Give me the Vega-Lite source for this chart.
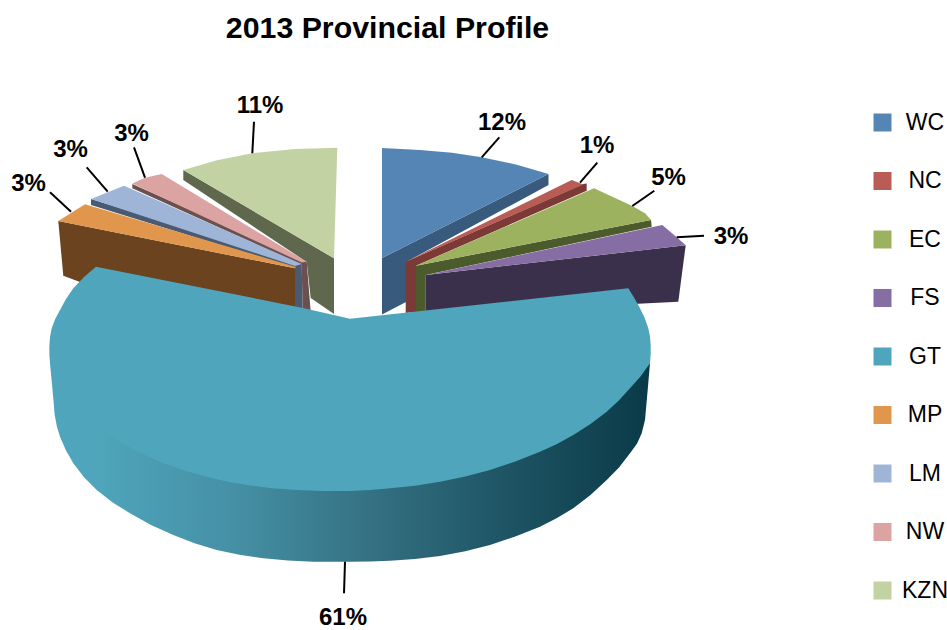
{
  "$schema": "https://vega.github.io/schema/vega-lite/v6.json",
  "width": 947,
  "height": 630,
  "padding": 0,
  "autosize": {"type": "none"},
  "background": "white",
  "title": {"text": "2013 Provincial Profile", "font": "Liberation Sans", "fontWeight": "bold", "fontSize": 30.3, "color": "black", "anchor": "middle", "dx": -86, "dy": 44, "offset": 0},
  "config": {"view": {"stroke": null}},
  "datasets": {
    "outlines": [
      {"province":"WC","face":"side","i":1,"x":382,"y":258},{"province":"WC","face":"side","i":2,"x":548.5,"y":174},{"province":"WC","face":"side","i":3,"x":548.5,"y":185},{"province":"WC","face":"side","i":4,"x":406,"y":262},{"province":"WC","face":"side","i":5,"x":406,"y":302},{"province":"WC","face":"side","i":6,"x":382,"y":314.5},
      {"province":"NC","face":"side","i":1,"x":405.7,"y":261.7},{"province":"NC","face":"side","i":2,"x":583.3,"y":184},{"province":"NC","face":"side","i":3,"x":586.7,"y":183.5},{"province":"NC","face":"side","i":4,"x":586.7,"y":190.7},{"province":"NC","face":"side","i":5,"x":416,"y":265.7},{"province":"NC","face":"side","i":6,"x":416,"y":312},{"province":"NC","face":"side","i":7,"x":405.7,"y":313},
      {"province":"EC","face":"side","i":1,"x":416,"y":265.7},{"province":"EC","face":"side","i":2,"x":651,"y":220},{"province":"EC","face":"side","i":3,"x":651.7,"y":226.7},{"province":"EC","face":"side","i":4,"x":425.7,"y":275},{"province":"EC","face":"side","i":5,"x":425.7,"y":312},{"province":"EC","face":"side","i":6,"x":416,"y":312},
      {"province":"FS","face":"side","i":1,"x":425.7,"y":275},{"province":"FS","face":"side","i":2,"x":685.7,"y":245.3},{"province":"FS","face":"side","i":3,"x":678.3,"y":301.7},{"province":"FS","face":"side","i":4,"x":633,"y":304},{"province":"FS","face":"side","i":5,"x":425.7,"y":312},
      {"province":"MP","face":"side","i":1,"x":58.3,"y":221},{"province":"MP","face":"side","i":2,"x":295,"y":268.3},{"province":"MP","face":"side","i":3,"x":295,"y":312},{"province":"MP","face":"side","i":4,"x":80,"y":282},{"province":"MP","face":"side","i":5,"x":63.3,"y":275.7},
      {"province":"LM","face":"side","i":1,"x":91,"y":199},{"province":"LM","face":"side","i":2,"x":301.7,"y":264},{"province":"LM","face":"side","i":3,"x":302.7,"y":312},{"province":"LM","face":"side","i":4,"x":295,"y":312},{"province":"LM","face":"side","i":5,"x":295,"y":268.3},{"province":"LM","face":"side","i":6,"x":91,"y":205},
      {"province":"NW","face":"side","i":1,"x":132.3,"y":184},{"province":"NW","face":"side","i":2,"x":306.7,"y":261.7},{"province":"NW","face":"side","i":3,"x":310.7,"y":312},{"province":"NW","face":"side","i":4,"x":302.7,"y":312},{"province":"NW","face":"side","i":5,"x":301.7,"y":265},{"province":"NW","face":"side","i":6,"x":132.3,"y":188.3},
      {"province":"KZN","face":"side","i":1,"x":183.3,"y":170},{"province":"KZN","face":"side","i":2,"x":334,"y":258.3},{"province":"KZN","face":"side","i":3,"x":334,"y":314},{"province":"KZN","face":"side","i":4,"x":310.7,"y":298},{"province":"KZN","face":"side","i":5,"x":306.7,"y":262},{"province":"KZN","face":"side","i":6,"x":183.3,"y":180},

      {"province":"WC","face":"top","i":1,"x":382,"y":148},{"province":"WC","face":"top","i":2,"x":420,"y":150},{"province":"WC","face":"top","i":3,"x":452,"y":152.7},{"province":"WC","face":"top","i":4,"x":481.7,"y":157.3},{"province":"WC","face":"top","i":5,"x":516,"y":164.5},{"province":"WC","face":"top","i":6,"x":548.5,"y":174},{"province":"WC","face":"top","i":7,"x":382,"y":258},
      {"province":"NC","face":"top","i":1,"x":405.7,"y":261.7},{"province":"NC","face":"top","i":2,"x":571.7,"y":180},{"province":"NC","face":"top","i":3,"x":583.3,"y":184.5},
      {"province":"EC","face":"top","i":1,"x":416,"y":265.7},{"province":"EC","face":"top","i":2,"x":594,"y":188.3},{"province":"EC","face":"top","i":3,"x":632.3,"y":206},{"province":"EC","face":"top","i":4,"x":645,"y":213.3},{"province":"EC","face":"top","i":5,"x":651,"y":220},
      {"province":"FS","face":"top","i":1,"x":425.7,"y":275},{"province":"FS","face":"top","i":2,"x":662.3,"y":225},{"province":"FS","face":"top","i":3,"x":676.7,"y":237.3},{"province":"FS","face":"top","i":4,"x":685.7,"y":245.3},
      {"province":"MP","face":"top","i":1,"x":58.3,"y":221},{"province":"MP","face":"top","i":2,"x":85,"y":204.3},{"province":"MP","face":"top","i":3,"x":296,"y":267},{"province":"MP","face":"top","i":4,"x":295,"y":268.3},
      {"province":"LM","face":"top","i":1,"x":91,"y":199},{"province":"LM","face":"top","i":2,"x":124,"y":185.7},{"province":"LM","face":"top","i":3,"x":301.7,"y":264},{"province":"LM","face":"top","i":4,"x":295,"y":266},
      {"province":"NW","face":"top","i":1,"x":132.3,"y":183.5},{"province":"NW","face":"top","i":2,"x":145,"y":177.7},{"province":"NW","face":"top","i":3,"x":161.7,"y":174},{"province":"NW","face":"top","i":4,"x":306.7,"y":261.7},{"province":"NW","face":"top","i":5,"x":301.7,"y":262.5},
      {"province":"KZN","face":"top","i":1,"x":183.3,"y":170},{"province":"KZN","face":"top","i":2,"x":216,"y":160.5},{"province":"KZN","face":"top","i":3,"x":252,"y":153.3},{"province":"KZN","face":"top","i":4,"x":295,"y":149},{"province":"KZN","face":"top","i":5,"x":337.3,"y":147.7},{"province":"KZN","face":"top","i":6,"x":334,"y":258.3},

      {"province":"GT","face":"rim","i":1,"x":350,"y":400},{"province":"GT","face":"rim","i":2,"x":650,"y":363.3},{"province":"GT","face":"rim","i":3,"x":647.5,"y":392},{"province":"GT","face":"rim","i":4,"x":645,"y":420},{"province":"GT","face":"rim","i":5,"x":641.7,"y":433.3},{"province":"GT","face":"rim","i":6,"x":637.1,"y":443.5},{"province":"GT","face":"rim","i":7,"x":630,"y":453.3},{"province":"GT","face":"rim","i":8,"x":619,"y":467.5},{"province":"GT","face":"rim","i":9,"x":606.7,"y":480},{"province":"GT","face":"rim","i":10,"x":590.5,"y":495},{"province":"GT","face":"rim","i":11,"x":573.3,"y":508.3},{"province":"GT","face":"rim","i":12,"x":557,"y":518},{"province":"GT","face":"rim","i":13,"x":540,"y":526.7},{"province":"GT","face":"rim","i":14,"x":515.3,"y":536.6},{"province":"GT","face":"rim","i":15,"x":490,"y":545},{"province":"GT","face":"rim","i":16,"x":465.3,"y":551.2},{"province":"GT","face":"rim","i":17,"x":440,"y":556},{"province":"GT","face":"rim","i":18,"x":415,"y":559},{"province":"GT","face":"rim","i":19,"x":390,"y":560.7},{"province":"GT","face":"rim","i":20,"x":370,"y":561.5},{"province":"GT","face":"rim","i":21,"x":350,"y":561.7},{"province":"GT","face":"rim","i":22,"x":313.3,"y":561.7},{"province":"GT","face":"rim","i":23,"x":288,"y":560.5},{"province":"GT","face":"rim","i":24,"x":263.3,"y":558.3},{"province":"GT","face":"rim","i":25,"x":239.5,"y":554.8},{"province":"GT","face":"rim","i":26,"x":216.7,"y":550},{"province":"GT","face":"rim","i":27,"x":194.5,"y":543.2},{"province":"GT","face":"rim","i":28,"x":173.3,"y":535},{"province":"GT","face":"rim","i":29,"x":151,"y":525},{"province":"GT","face":"rim","i":30,"x":130,"y":513.3},{"province":"GT","face":"rim","i":31,"x":112.7,"y":502.4},{"province":"GT","face":"rim","i":32,"x":96.7,"y":490},{"province":"GT","face":"rim","i":33,"x":84,"y":477.3},{"province":"GT","face":"rim","i":34,"x":73.3,"y":463.3},{"province":"GT","face":"rim","i":35,"x":66,"y":450.5},{"province":"GT","face":"rim","i":36,"x":60,"y":436.7},{"province":"GT","face":"rim","i":37,"x":57,"y":427},{"province":"GT","face":"rim","i":38,"x":55,"y":416.7},{"province":"GT","face":"rim","i":39,"x":54,"y":400},

      {"province":"GT","face":"top","i":1,"x":350,"y":318.7},{"province":"GT","face":"top","i":2,"x":628.3,"y":288.3},{"province":"GT","face":"top","i":3,"x":634.3,"y":298},{"province":"GT","face":"top","i":4,"x":640,"y":308.3},{"province":"GT","face":"top","i":5,"x":644.7,"y":318},{"province":"GT","face":"top","i":6,"x":648.3,"y":328.3},{"province":"GT","face":"top","i":7,"x":650,"y":336.5},{"province":"GT","face":"top","i":8,"x":650.7,"y":345},{"province":"GT","face":"top","i":9,"x":650.7,"y":354},{"province":"GT","face":"top","i":10,"x":650,"y":363.3},{"province":"GT","face":"top","i":11,"x":640.5,"y":376.5},{"province":"GT","face":"top","i":12,"x":630,"y":388.3},{"province":"GT","face":"top","i":13,"x":618.8,"y":400.5},{"province":"GT","face":"top","i":14,"x":606.7,"y":411.7},{"province":"GT","face":"top","i":15,"x":590.5,"y":424},{"province":"GT","face":"top","i":16,"x":573.3,"y":435},{"province":"GT","face":"top","i":17,"x":557,"y":444},{"province":"GT","face":"top","i":18,"x":540,"y":451.7},{"province":"GT","face":"top","i":19,"x":515.3,"y":461.5},{"province":"GT","face":"top","i":20,"x":490,"y":470},{"province":"GT","face":"top","i":21,"x":465.3,"y":476.6},{"province":"GT","face":"top","i":22,"x":440,"y":481.7},{"province":"GT","face":"top","i":23,"x":415,"y":485.7},{"province":"GT","face":"top","i":24,"x":390,"y":488.3},{"province":"GT","face":"top","i":25,"x":370,"y":490},{"province":"GT","face":"top","i":26,"x":350,"y":491},{"province":"GT","face":"top","i":27,"x":323.5,"y":491},{"province":"GT","face":"top","i":28,"x":296.7,"y":490},{"province":"GT","face":"top","i":29,"x":272,"y":488.2},{"province":"GT","face":"top","i":30,"x":246.7,"y":485},{"province":"GT","face":"top","i":31,"x":226.5,"y":481.5},{"province":"GT","face":"top","i":32,"x":206.7,"y":476.7},{"province":"GT","face":"top","i":33,"x":185,"y":470.8},{"province":"GT","face":"top","i":34,"x":163.3,"y":463.3},{"province":"GT","face":"top","i":35,"x":139.5,"y":452.5},{"province":"GT","face":"top","i":36,"x":116.7,"y":440},{"province":"GT","face":"top","i":37,"x":99.5,"y":428},{"province":"GT","face":"top","i":38,"x":83.3,"y":415},{"province":"GT","face":"top","i":39,"x":55,"y":416.7},{"province":"GT","face":"top","i":40,"x":52.5,"y":390},{"province":"GT","face":"top","i":41,"x":50,"y":363.3},{"province":"GT","face":"top","i":42,"x":49.4,"y":355},{"province":"GT","face":"top","i":43,"x":49.3,"y":346.7},{"province":"GT","face":"top","i":44,"x":50,"y":337},{"province":"GT","face":"top","i":45,"x":51.7,"y":328.3},{"province":"GT","face":"top","i":46,"x":55.2,"y":319},{"province":"GT","face":"top","i":47,"x":60,"y":310},{"province":"GT","face":"top","i":48,"x":66,"y":299},{"province":"GT","face":"top","i":49,"x":73.3,"y":288.3},{"province":"GT","face":"top","i":50,"x":84,"y":277},{"province":"GT","face":"top","i":51,"x":96,"y":266.7},{"province":"GT","face":"top","i":52,"x":303,"y":308}
    ],
    "shares": [
      {"province":"WC","share":0.12,"x":502,"y":123,"edgeX":481.7,"edgeY":157.3,"tipX":499.3,"tipY":137.3},
      {"province":"NC","share":0.01,"x":597,"y":145.5,"edgeX":580,"edgeY":182.7,"tipX":597.3,"tipY":162.7},
      {"province":"EC","share":0.05,"x":668.5,"y":177.5,"edgeX":632.3,"edgeY":206,"tipX":654.3,"tipY":190.7},
      {"province":"FS","share":0.03,"x":731,"y":236.5,"edgeX":676.7,"edgeY":237.3,"tipX":704,"tipY":235.7},
      {"province":"GT","share":0.61,"x":343,"y":618,"edgeX":345,"edgeY":561.7,"tipX":344,"tipY":593.3},
      {"province":"MP","share":0.03,"x":28.5,"y":184,"edgeX":71,"edgeY":211.7,"tipX":50,"tipY":192.3},
      {"province":"LM","share":0.03,"x":70.5,"y":149.5,"edgeX":107.7,"edgeY":191.7,"tipX":86.7,"tipY":167.3},
      {"province":"NW","share":0.03,"x":131.5,"y":134,"edgeX":145,"edgeY":177.7,"tipX":134,"tipY":147.3},
      {"province":"KZN","share":0.11,"x":260,"y":106,"edgeX":252.3,"edgeY":153.3,"tipX":254,"tipY":121.7}
    ]
  },
  "encoding": {
    "x": {"field": "x", "type": "quantitative", "axis": null, "scale": {"domain": [0, 947], "nice": false, "zero": false}},
    "y": {"field": "y", "type": "quantitative", "axis": null, "scale": {"domain": [0, 630], "nice": false, "zero": false, "reverse": true}}
  },
  "layer": [
    {
      "data": {"name": "outlines"},
      "transform": [{"filter": "datum.face === 'side'"}],
      "mark": {"type": "line", "filled": true, "strokeWidth": 0, "opacity": 1},
      "encoding": {
        "order": {"field": "i", "type": "quantitative"},
        "color": {"field": "province", "type": "nominal", "legend": null,
          "scale": {"domain": ["WC","NC","EC","FS","MP","LM","NW","KZN"], "range": ["#385A7D","#7C3A36","#4C5B2C","#3B304B","#6B431F","#4A5A70","#6B5050","#5F684D"]}}
      }
    },
    {
      "data": {"name": "outlines"},
      "transform": [{"filter": "datum.face === 'top' && datum.province !== 'GT'"}],
      "mark": {"type": "line", "filled": true, "strokeWidth": 0, "opacity": 1},
      "encoding": {
        "order": {"field": "i", "type": "quantitative"},
        "color": {"field": "province", "type": "nominal",
          "scale": {"domain": ["WC","NC","EC","FS","GT","MP","LM","NW","KZN"], "range": ["#5485B5","#B85C55","#9DB25F","#866DA3","#4FA6BC","#E0964C","#9FB5D8","#DBA4A2","#C3D2A3"]},
          "legend": {"orient": "none", "legendX": 871, "legendY": 111, "title": null, "symbolType": "square", "symbolSize": 324, "symbolStrokeWidth": 0, "symbolOpacity": 1, "labelFont": "Liberation Sans", "labelFontSize": 23, "labelColor": "black", "labelAlign": "center", "labelOffset": 31, "rowPadding": 34.5, "labelLimit": 80}}
      }
    },
    {
      "data": {"name": "outlines"},
      "transform": [{"filter": "datum.face === 'rim'"}],
      "mark": {"type": "line", "strokeWidth": 0, "opacity": 1,
        "fill": {"gradient": "linear", "x1": 0, "x2": 1, "y1": 0, "y2": 0,
          "stops": [{"offset": 0, "color": "#4FA6BC"}, {"offset": 0.06, "color": "#4FA6BC"}, {"offset": 0.3, "color": "#4590A5"}, {"offset": 0.5, "color": "#377587"}, {"offset": 0.75, "color": "#1F5565"}, {"offset": 1, "color": "#0A3A47"}]}},
      "encoding": {"order": {"field": "i", "type": "quantitative"}}
    },
    {
      "data": {"name": "outlines"},
      "transform": [{"filter": "datum.face === 'top' && datum.province === 'GT'"}],
      "mark": {"type": "line", "strokeWidth": 0, "opacity": 1, "fill": "#4FA6BC"},
      "encoding": {"order": {"field": "i", "type": "quantitative"}}
    },
    {
      "data": {"name": "shares"},
      "mark": {"type": "rule", "color": "black", "strokeWidth": 2},
      "encoding": {
        "x": {"field": "edgeX", "type": "quantitative"},
        "y": {"field": "edgeY", "type": "quantitative"},
        "x2": {"field": "tipX"},
        "y2": {"field": "tipY"}
      }
    },
    {
      "data": {"name": "shares"},
      "mark": {"type": "text", "font": "Liberation Sans", "fontWeight": "bold", "fontSize": 24, "color": "black", "align": "center", "baseline": "middle"},
      "encoding": {
        "text": {"field": "share", "type": "quantitative", "format": ".0%"}
      }
    }
  ],
  "resolve": {"scale": {"color": "independent"}}
}
